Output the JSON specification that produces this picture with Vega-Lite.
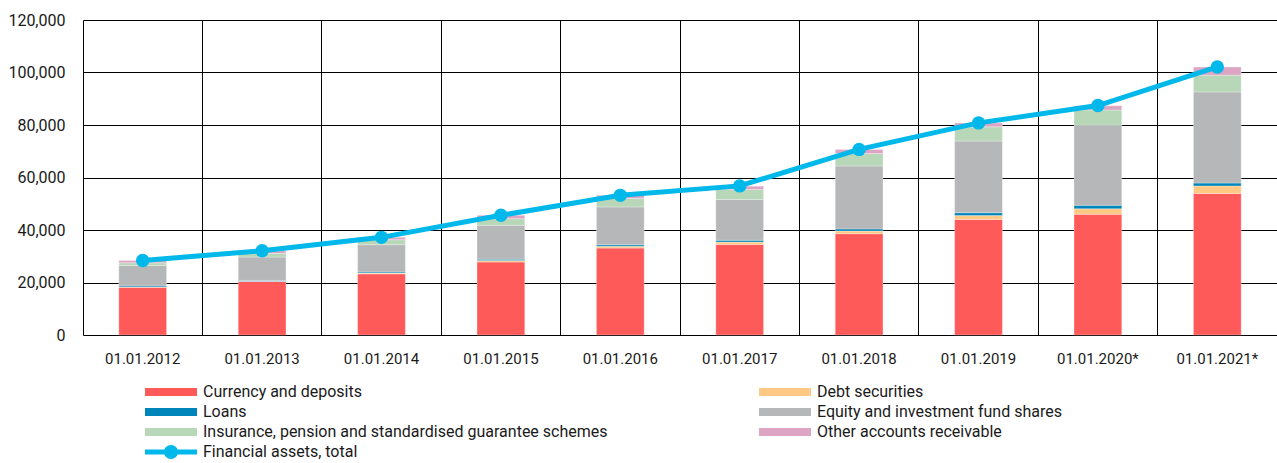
{
  "$schema": "https://vega.github.io/schema/vega-lite/v6.json",
  "autosize": {"type": "none"},
  "width": 1194,
  "height": 315,
  "padding": {"left": 83, "top": 20, "right": 0, "bottom": 128},
  "background": "white",
  "config": {
    "view": {"stroke": null},
    "font": "Roboto",
    "axis": {"labelFont": "Roboto", "labelFontSize": 15, "labelColor": "#1a1a1a", "gridColor": "#000000", "gridWidth": 1, "gridOpacity": 1},
    "legend": {"labelFont": "Roboto", "labelFontSize": 16, "labelColor": "#1a1a1a"}
  },
  "datasets": {
    "parts": [
      {"date": "01.01.2012", "category": "Currency and deposits", "value": 18200},
      {"date": "01.01.2012", "category": "Debt securities", "value": 100},
      {"date": "01.01.2012", "category": "Loans", "value": 400},
      {"date": "01.01.2012", "category": "Equity and investment fund shares", "value": 7800},
      {"date": "01.01.2012", "category": "Insurance, pension and standardised guarantee schemes", "value": 1000},
      {"date": "01.01.2012", "category": "Other accounts receivable", "value": 900},
      {"date": "01.01.2013", "category": "Currency and deposits", "value": 20400},
      {"date": "01.01.2013", "category": "Debt securities", "value": 100},
      {"date": "01.01.2013", "category": "Loans", "value": 300},
      {"date": "01.01.2013", "category": "Equity and investment fund shares", "value": 8900},
      {"date": "01.01.2013", "category": "Insurance, pension and standardised guarantee schemes", "value": 1400},
      {"date": "01.01.2013", "category": "Other accounts receivable", "value": 1000},
      {"date": "01.01.2014", "category": "Currency and deposits", "value": 23300},
      {"date": "01.01.2014", "category": "Debt securities", "value": 300},
      {"date": "01.01.2014", "category": "Loans", "value": 400},
      {"date": "01.01.2014", "category": "Equity and investment fund shares", "value": 10400},
      {"date": "01.01.2014", "category": "Insurance, pension and standardised guarantee schemes", "value": 1900},
      {"date": "01.01.2014", "category": "Other accounts receivable", "value": 900},
      {"date": "01.01.2015", "category": "Currency and deposits", "value": 27800},
      {"date": "01.01.2015", "category": "Debt securities", "value": 600},
      {"date": "01.01.2015", "category": "Loans", "value": 500},
      {"date": "01.01.2015", "category": "Equity and investment fund shares", "value": 12900},
      {"date": "01.01.2015", "category": "Insurance, pension and standardised guarantee schemes", "value": 2500},
      {"date": "01.01.2015", "category": "Other accounts receivable", "value": 1300},
      {"date": "01.01.2016", "category": "Currency and deposits", "value": 33100},
      {"date": "01.01.2016", "category": "Debt securities", "value": 700},
      {"date": "01.01.2016", "category": "Loans", "value": 600},
      {"date": "01.01.2016", "category": "Equity and investment fund shares", "value": 14400},
      {"date": "01.01.2016", "category": "Insurance, pension and standardised guarantee schemes", "value": 3200},
      {"date": "01.01.2016", "category": "Other accounts receivable", "value": 1200},
      {"date": "01.01.2017", "category": "Currency and deposits", "value": 34500},
      {"date": "01.01.2017", "category": "Debt securities", "value": 900},
      {"date": "01.01.2017", "category": "Loans", "value": 700},
      {"date": "01.01.2017", "category": "Equity and investment fund shares", "value": 15500},
      {"date": "01.01.2017", "category": "Insurance, pension and standardised guarantee schemes", "value": 3800},
      {"date": "01.01.2017", "category": "Other accounts receivable", "value": 1300},
      {"date": "01.01.2018", "category": "Currency and deposits", "value": 38600},
      {"date": "01.01.2018", "category": "Debt securities", "value": 1000},
      {"date": "01.01.2018", "category": "Loans", "value": 800},
      {"date": "01.01.2018", "category": "Equity and investment fund shares", "value": 24000},
      {"date": "01.01.2018", "category": "Insurance, pension and standardised guarantee schemes", "value": 4700},
      {"date": "01.01.2018", "category": "Other accounts receivable", "value": 1600},
      {"date": "01.01.2019", "category": "Currency and deposits", "value": 44000},
      {"date": "01.01.2019", "category": "Debt securities", "value": 1500},
      {"date": "01.01.2019", "category": "Loans", "value": 1100},
      {"date": "01.01.2019", "category": "Equity and investment fund shares", "value": 27300},
      {"date": "01.01.2019", "category": "Insurance, pension and standardised guarantee schemes", "value": 5400},
      {"date": "01.01.2019", "category": "Other accounts receivable", "value": 1500},
      {"date": "01.01.2020*", "category": "Currency and deposits", "value": 46000},
      {"date": "01.01.2020*", "category": "Debt securities", "value": 2100},
      {"date": "01.01.2020*", "category": "Loans", "value": 1300},
      {"date": "01.01.2020*", "category": "Equity and investment fund shares", "value": 30500},
      {"date": "01.01.2020*", "category": "Insurance, pension and standardised guarantee schemes", "value": 5800},
      {"date": "01.01.2020*", "category": "Other accounts receivable", "value": 1600},
      {"date": "01.01.2021*", "category": "Currency and deposits", "value": 53900},
      {"date": "01.01.2021*", "category": "Debt securities", "value": 2900},
      {"date": "01.01.2021*", "category": "Loans", "value": 1100},
      {"date": "01.01.2021*", "category": "Equity and investment fund shares", "value": 34700},
      {"date": "01.01.2021*", "category": "Insurance, pension and standardised guarantee schemes", "value": 6400},
      {"date": "01.01.2021*", "category": "Other accounts receivable", "value": 3100}
    ],
    "totals": [
      {"date": "01.01.2012", "total": 28400},
      {"date": "01.01.2013", "total": 32100},
      {"date": "01.01.2014", "total": 37200},
      {"date": "01.01.2015", "total": 45600},
      {"date": "01.01.2016", "total": 53200},
      {"date": "01.01.2017", "total": 56800},
      {"date": "01.01.2018", "total": 70700},
      {"date": "01.01.2019", "total": 80800},
      {"date": "01.01.2020*", "total": 87400},
      {"date": "01.01.2021*", "total": 102100}
    ]
  },
  "resolve": {"scale": {"color": "independent"}, "legend": {"color": "independent"}},
  "encoding": {
    "x": {
      "field": "date", "type": "nominal", "sort": null,
      "scale": {"paddingInner": 0, "paddingOuter": 0},
      "axis": {"title": null, "labelAngle": 0, "ticks": false, "labelPadding": 16, "domain": false, "grid": true, "bandPosition": 0}
    }
  },
  "layer": [
    {
      "data": {"name": "parts"},
      "transform": [
        {"calculate": "indexof(['Currency and deposits', 'Debt securities', 'Loans', 'Equity and investment fund shares', 'Insurance, pension and standardised guarantee schemes', 'Other accounts receivable'], datum.category)", "as": "stackorder"}
      ],
      "mark": {"type": "bar", "width": {"band": 0.4}, "stroke": "white", "strokeWidth": 0.6, "strokeOpacity": 0.5},
      "encoding": {
        "y": {
          "field": "value", "type": "quantitative", "stack": "zero",
          "scale": {"domain": [0, 120000], "nice": false},
          "axis": {"title": null, "values": [0, 20000, 40000, 60000, 80000, 100000, 120000], "format": ",d", "ticks": false, "labelPadding": 18, "labelFontSize": 16, "domain": false, "grid": true}
        },
        "order": {"field": "stackorder", "type": "quantitative", "sort": "ascending"},
        "color": {
          "field": "category", "type": "nominal",
          "scale": {
            "domain": ["Currency and deposits", "Debt securities", "Loans", "Equity and investment fund shares", "Insurance, pension and standardised guarantee schemes", "Other accounts receivable"],
            "range": ["#FF5A5A", "#FFC985", "#0085BA", "#B6B7B9", "#B8D6B8", "#DCA5C3"]
          },
          "legend": {
            "title": null,
            "orient": "none",
            "direction": "horizontal",
            "legendX": 80,
            "legendY": 364,
            "columns": 2,
            "columnPadding": 151,
            "rowPadding": 4,
            "padding": 0,
            "labelLimit": 0,
            "symbolSize": 100,
            "symbolType": "M-5.2,-0.8H5.2V0.8H-5.2Z",
            "symbolStrokeWidth": 0,
            "labelOffset": 24
          }
        }
      }
    },
    {
      "data": {"name": "totals"},
      "mark": {"type": "line", "color": "#00B8EA", "strokeWidth": 5},
      "encoding": {
        "y": {"field": "total", "type": "quantitative"}
      }
    },
    {
      "data": {"name": "totals"},
      "mark": {"type": "point", "filled": true, "size": 180, "opacity": 1},
      "encoding": {
        "y": {"field": "total", "type": "quantitative"},
        "color": {
          "datum": "Financial assets, total",
          "scale": {"range": ["#00B8EA"]},
          "legend": {
            "title": null,
            "orient": "none",
            "legendX": 80,
            "legendY": 424,
            "padding": 0,
            "labelLimit": 0,
            "symbolSize": 100,
            "symbolType": "M-5.2,-0.5H5.2V0.5H-5.2Z M-1.4,0A1.4,1.4 0 1,1 1.4,0A1.4,1.4 0 1,1 -1.4,0Z",
            "symbolStrokeWidth": 0,
            "symbolOpacity": 1,
            "labelOffset": 24
          }
        }
      }
    }
  ]
}
